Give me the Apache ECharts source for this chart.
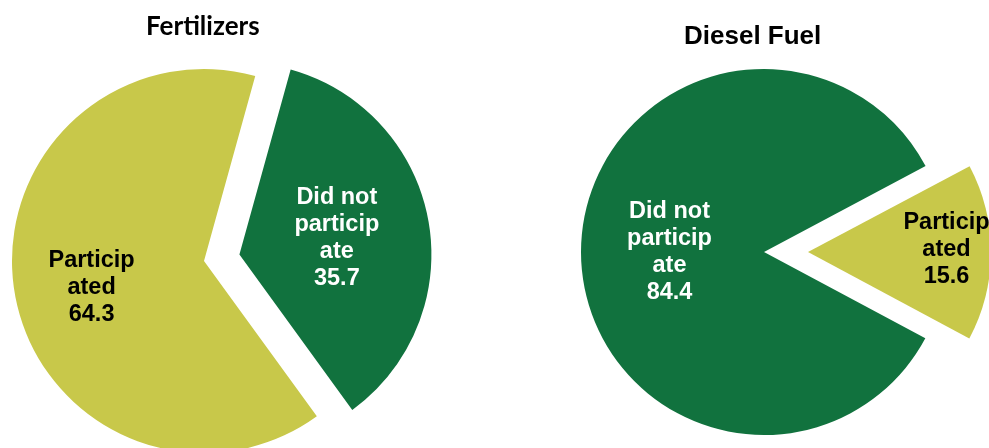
<!DOCTYPE html>
<html>
<head>
<meta charset="utf-8">
<script src="https://cdn.jsdelivr.net/npm/echarts@6/dist/echarts.min.js"></script>
<style>
  html, body { margin: 0; padding: 0; background: #ffffff; }
  #chart { width: 989px; height: 448px; }
</style>
</head>
<body>
<div id="chart"></div>
<script>
// Share of farms taking part, by input type (percent)
const categories = ['Participated', 'Did not participate'];
const sliceLabels = ['Particip\nated', 'Did not\nparticip\nate'];
const fertilizerValues = [64.3, 35.7];
const dieselValues = [15.6, 84.4];
const chartTitles = ['Fertilizers', 'Diesel Fuel'];

const SLICE_COLORS = ['#C8C84A', '#11723E'];
const LABEL_COLORS = ['#000000', '#ffffff'];

function buildData(values, explodedIndex) {
  return categories.map((name, i) => ({
    name: name,
    value: values[i],
    selected: i === explodedIndex,
    itemStyle: { color: SLICE_COLORS[i] },
    label: { color: LABEL_COLORS[i] }
  }));
}

function pieSeries(values, explodedIndex, center, radius, startAngle, offset, labelShift) {
  return {
    type: 'pie',
    center: center,
    radius: radius,
    startAngle: startAngle,
    clockwise: true,
    selectedMode: 'single',
    selectedOffset: offset,
    avoidLabelOverlap: false,
    silent: true,
    animation: false,
    itemStyle: { borderWidth: 0 },
    emphasis: { disabled: true, scale: false },
    labelLine: { show: false },
    label: {
      show: true,
      position: 'inside',
      fontFamily: '"Liberation Sans", Arial, sans-serif',
      fontWeight: 'bold',
      fontSize: 23.5,
      lineHeight: 27,
      align: 'center',
      formatter: p => sliceLabels[p.dataIndex] + '\n' + p.value.toFixed(1)
    },
    labelLayout: p => (labelShift[p.dataIndex] || {}),
    data: buildData(values, explodedIndex)
  };
}

const chart = echarts.init(document.getElementById('chart'), null, { renderer: 'canvas' });

chart.setOption({
  backgroundColor: '#ffffff',
  animation: false,
  title: [
    {
      text: chartTitles[0],
      left: 146, top: 14, padding: 0,
      textStyle: { fontFamily: 'Lato, "Open Sans", sans-serif', fontWeight: 'bold', fontSize: 26, color: '#000000' }
    },
    {
      text: chartTitles[1],
      left: 684, top: 24, padding: 0,
      textStyle: { fontFamily: '"Liberation Sans", Arial, sans-serif', fontWeight: 'bold', fontSize: 26, color: '#000000' }
    }
  ],
  series: [
    pieSeries(fertilizerValues, 1, [204, 261], 192, 306, 36, { 0: { dx: -15, dy: 9 }, 1: { dy: 1 } }),
    pieSeries(dieselValues, 0, [764, 252], 183, 28, 44, { 0: { dx: 44, dy: -3 } })
  ]
});
</script>
</body>
</html>
